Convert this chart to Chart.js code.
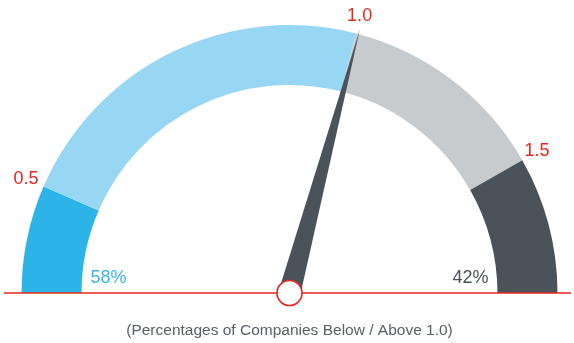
<!DOCTYPE html>
<html>
<head>
<meta charset="utf-8">
<script src="https://cdn.jsdelivr.net/npm/chart.js@4/dist/chart.umd.min.js"></script>
<style>
  html, body { margin: 0; padding: 0; background: #fff; }
  #wrap { width: 574px; height: 343px; position: relative; }
</style>
</head>
<body>
<div id="wrap"><canvas id="gauge"></canvas></div>
<script>
// gauge bands, as share of the half circle (%)
const bands = ['< 0.5', '0.5 - 1.0', '1.0 - 1.5', '> 1.5'];
const bandShares = [13, 45, 25.5, 16.5];
const bandColors = ['#2cb3e8', '#97d7f3', '#c8cbce', '#4b535a'];
const tickLabels = ['0.5', '1.0', '1.5'];
const needleValue = 58.3;
const sideLabels = ['58%', '42%'];
const caption = '(Percentages of Companies Below / Above 1.0)';

const RED = '#e4271f';
const FONT = '"Liberation Sans", Arial, sans-serif';

const gaugeExtras = {
  id: 'gaugeExtras',
  afterDatasetsDraw(chart) {
    const ctx = chart.ctx;
    const arc = chart.getDatasetMeta(0).data[0];
    const cx = arc.x, cy = arc.y;
    const rOut = arc.outerRadius, rIn = arc.innerRadius;
    const total = bandShares.reduce((a, b) => a + b, 0);
    const angleOf = v => Math.PI + Math.PI * v / total;

    // tick labels at band boundaries
    ctx.save();
    ctx.font = '18px ' + FONT;
    ctx.fillStyle = RED;
    ctx.textAlign = 'center';
    ctx.textBaseline = 'middle';
    let acc = 0;
    tickLabels.forEach((t, i) => {
      acc += bandShares[i];
      const a = angleOf(acc);
      const r = rOut + 18;
      ctx.fillText(t, cx + r * Math.cos(a) - 1, cy + r * Math.sin(a));
    });

    // percentages just inside the ring
    ctx.textBaseline = 'alphabetic';
    ctx.textAlign = 'left';
    ctx.fillStyle = '#3bb5e6';
    ctx.fillText(sideLabels[0], cx - rIn + 9, cy - 10);
    ctx.textAlign = 'right';
    ctx.fillStyle = '#4b535a';
    ctx.fillText(sideLabels[1], cx + rIn - 9, cy - 10);

    // baseline
    ctx.strokeStyle = RED;
    ctx.lineWidth = 1.5;
    ctx.beginPath();
    ctx.moveTo(4, cy);
    ctx.lineTo(chart.width - 3, cy);
    ctx.stroke();

    // needle
    const a = angleOf(needleValue);
    const len = rOut + 5;
    const hw = 11;
    const px = -Math.sin(a), py = Math.cos(a);
    ctx.fillStyle = '#4b535a';
    ctx.beginPath();
    ctx.moveTo(cx + px * hw, cy + py * hw);
    ctx.lineTo(cx + len * Math.cos(a), cy + len * Math.sin(a));
    ctx.lineTo(cx - px * hw, cy - py * hw);
    ctx.closePath();
    ctx.fill();

    // hub
    ctx.beginPath();
    ctx.arc(cx, cy, 12.5, 0, Math.PI * 2);
    ctx.fillStyle = '#fff';
    ctx.fill();
    ctx.lineWidth = 1.6;
    ctx.strokeStyle = RED;
    ctx.stroke();

    // caption
    ctx.font = '15.5px ' + FONT;
    ctx.fillStyle = '#5a6067';
    ctx.textAlign = 'center';
    ctx.textBaseline = 'middle';
    ctx.fillText(caption, cx, cy + 38);
    ctx.restore();
  }
};

new Chart(document.getElementById('gauge'), {
  type: 'doughnut',
  data: {
    labels: bands,
    datasets: [{
      data: bandShares,
      backgroundColor: bandColors,
      borderWidth: 0
    }]
  },
  options: {
    responsive: true,
    maintainAspectRatio: false,
    animation: false,
    rotation: -90,
    circumference: 180,
    cutout: '77.6%',
    layout: { padding: { left: 21.5, right: 16.5, top: 25, bottom: 50 } },
    plugins: {
      legend: { display: false },
      tooltip: { enabled: false }
    }
  },
  plugins: [gaugeExtras]
});
</script>
</body>
</html>
